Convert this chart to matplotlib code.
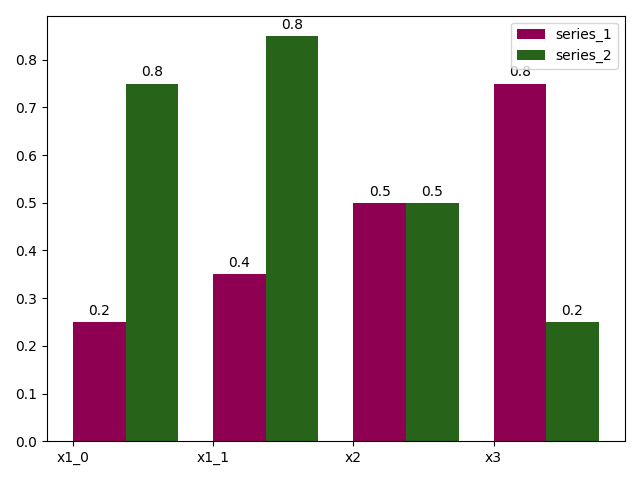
import matplotlib
matplotlib.use("Agg")
import matplotlib.pyplot as plt
import numpy as np

categories = ["x1_0", "x1_1", "x2", "x3"]
series_1 = [0.25, 0.35, 0.5, 0.75]
series_2 = [0.75, 0.85, 0.5, 0.25]
labels_1 = ["0.2", "0.4", "0.5", "0.8"]
labels_2 = ["0.8", "0.8", "0.5", "0.2"]

fig, ax = plt.subplots(figsize=(6.4, 4.8), dpi=100)
x = np.arange(len(categories))
w = 0.375
b1 = ax.bar(x, series_1, w, align="edge", color="#8e0152", label="series_1")
b2 = ax.bar(x + w, series_2, w, align="edge", color="#276419", label="series_2")
for bars, labs in ((b1, labels_1), (b2, labels_2)):
    for rect, lab in zip(bars, labs):
        ax.annotate(lab, xy=(rect.get_x() + rect.get_width() / 2, rect.get_height()),
                    xytext=(0, 3), textcoords="offset points", ha="center", va="bottom")
ax.set_xticks(x)
ax.set_xticklabels(categories)
ax.legend(loc="upper right")
fig.tight_layout()
fig.savefig("out.png")
